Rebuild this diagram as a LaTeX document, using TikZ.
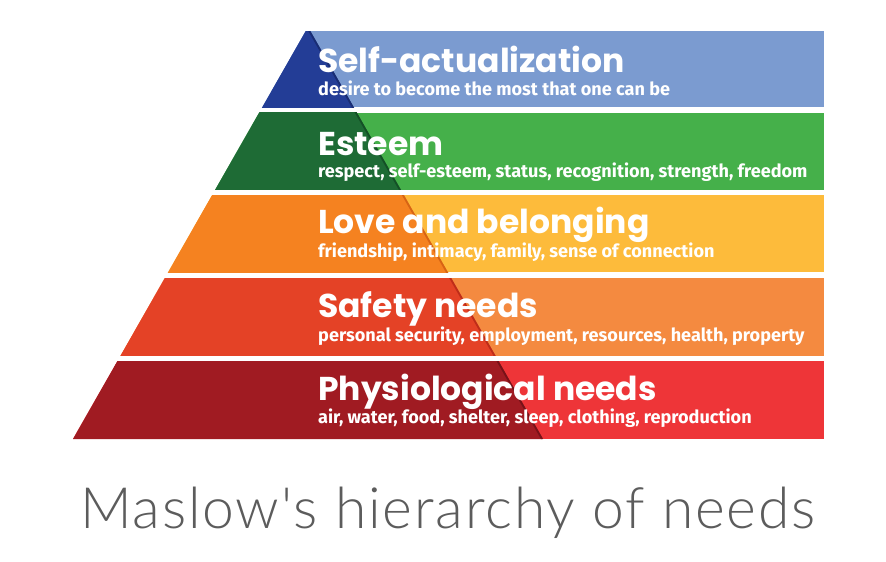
\documentclass[tikz,border=0pt]{standalone}
\usepackage{fontspec}
\newfontfamily\titlefont{Poppins}
\newfontfamily\subfont{Fira Sans}
\newfontfamily\capfont{Lato Light}[LetterSpace=3.1]
\definecolor{lt1}{RGB}{123,155,208}
\definecolor{dk1}{RGB}{35,61,150}
\definecolor{ln1}{RGB}{25,45,115}
\definecolor{lt2}{RGB}{69,176,74}
\definecolor{dk2}{RGB}{30,107,53}
\definecolor{ln2}{RGB}{20,80,38}
\definecolor{lt3}{RGB}{253,187,59}
\definecolor{dk3}{RGB}{245,130,32}
\definecolor{ln3}{RGB}{215,100,20}
\definecolor{lt4}{RGB}{244,138,64}
\definecolor{dk4}{RGB}{228,66,38}
\definecolor{ln4}{RGB}{190,45,25}
\definecolor{lt5}{RGB}{238,53,56}
\definecolor{dk5}{RGB}{160,27,34}
\definecolor{ln5}{RGB}{120,18,24}
\definecolor{capgrey}{RGB}{92,92,92}
\newcommand\pyrband[5]{%
  \begin{scope}
    \clip (A) -- (BL) -- (824,439) -- (824,27) -- cycle;
    \clip (0,#1) rectangle (824,#2);
    \fill[#3] (0,#1) rectangle (824,#2);
    \fill[#4] (A) -- (BL) -- (BR) -- cycle;
    \draw[#5, line width=1.8pt] (A2) -- (BR2);
  \end{scope}}
\begin{document}
\begin{tikzpicture}[x=1pt,y=-1pt,
  ttl/.style={anchor=base west, inner sep=0pt, text=white, font=\titlefont\bfseries\fontsize{33}{36}\selectfont},
  sub/.style={anchor=base west, inner sep=0pt, text=white, font=\subfont\bfseries\fontsize{18.1}{20}\selectfont},
  captext/.style={anchor=base west, inner sep=0pt, text=capgrey, font=\capfont\fontsize{57}{60}\selectfont}]
\useasboundingbox (0,0) rectangle (886,562);
\fill[white] (0,0) rectangle (886,562);
\coordinate (A) at (308,27);
\coordinate (BL) at (73,439);
\coordinate (BR) at (543,439);
\coordinate (A2) at (307,27);
\coordinate (BR2) at (542,439);
\pyrband{31}{107}{lt1}{dk1}{ln1}
\pyrband{112.5}{189.5}{lt2}{dk2}{ln2}
\pyrband{195}{272}{lt3}{dk3}{ln3}
\pyrband{278}{355.5}{lt4}{dk4}{ln4}
\pyrband{361}{439}{lt5}{dk5}{ln5}
\node[ttl] (t1) at (318,72) {Self-actualization};
\node[sub] (s1) at (318,95) {desire to become the most that one can be};
\node[ttl] (t2) at (318,155) {Esteem};
\node[sub] (s2) at (318,177) {respect, self-esteem, status, recognition, strength, freedom};
\node[ttl] (t3) at (318,233) {Love and belonging};
\node[sub] (s3) at (318,257) {friendship, intimacy, family, sense of connection};
\node[ttl] (t4) at (318,317) {Safety needs};
\node[sub] (s4) at (318,341) {personal security, employment, resources, health, property};
\node[ttl] (t5) at (318,400) {Physiological needs};
\node[sub] (s5) at (318,423) {air, water, food, shelter, sleep, clothing, reproduction};
\node[captext] (c) at (80,528) {Maslow's hierarchy of needs};
\end{tikzpicture}
\end{document}
